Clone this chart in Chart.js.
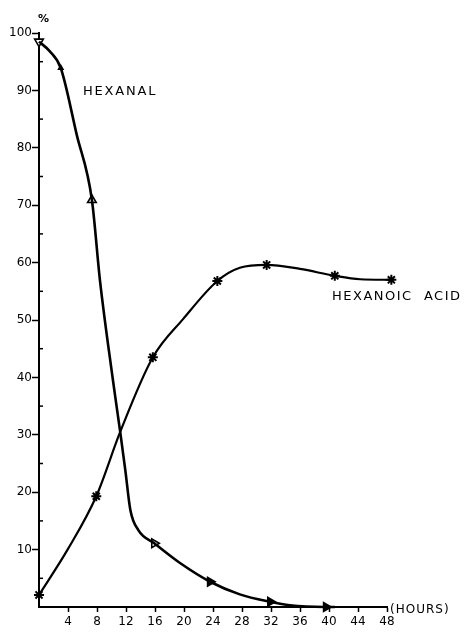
<!DOCTYPE html>
<html>
<head>
<meta charset="utf-8">
<script src="https://cdn.jsdelivr.net/npm/chart.js@4.4.1/dist/chart.umd.min.js"></script>
<style>
  html, body { margin: 0; padding: 0; background: #fff; }
  #wrap { width: 464px; height: 636px; }
</style>
</head>
<body>
<div id="wrap"><canvas id="grafico" width="464" height="636"></canvas></div>
<script>
// pontos medidos (marcadores)
const hexanalHoras = [0, 3, 7.3, 15.9, 23.6, 31.9, 39.6];
const hexanalPct = [98.5, 93.9, 70.9, 11.1, 4.4, 0.9, 0];
const acidoHoras = [0, 7.9, 15.7, 24.6, 31.4, 40.8, 48.6];
const acidoPct = [2.1, 19.3, 43.5, 56.8, 59.6, 57.7, 57.0];

// curvas desenhadas à mão
const hexanalCurvaHoras = [0, 1.5, 3, 5.2, 7.3, 8.4, 10.2, 11.2, 11.9, 12.6, 13.7, 15.9, 19.4, 23.6, 27.7, 31.9, 34.6, 39.4, 40.8];
const hexanalCurvaPct = [98.5, 96.8, 93.9, 82.3, 70.9, 57, 39.5, 30.5, 23.9, 16.9, 13.4, 11.1, 7.7, 4.4, 2.2, 0.9, 0.3, 0, 0];
const acidoCurvaHoras = [0, 3.9, 7.9, 11.2, 15.7, 19.9, 24.6, 27.7, 31.4, 36, 40.8, 44.3, 48.6];
const acidoCurvaPct = [2.1, 9.9, 19.3, 30.5, 43.5, 50.2, 56.8, 59.1, 59.6, 58.9, 57.7, 57.1, 57.0];

// eixos
const eixoX = { min: 0, max: 48, passo: 4 };
const eixoY = { min: 0, max: 100, passo: 5 };

const pares = (xs, ys) => xs.map((x, i) => ({ x: x, y: ys[i] }));
const fonte = "'DejaVu Sans', sans-serif";

// textos soltos e traços menores do eixo Y
const anotacoes = {
    id: "anotacoes",
    afterDraw(chart) {
        const ctx = chart.ctx;
        const y = chart.scales.y;
        ctx.save();
        ctx.strokeStyle = "#000";
        ctx.lineWidth = 1.5;
        for (let v = 5; v < 100; v += 10) {
            const py = y.getPixelForValue(v);
            ctx.beginPath();
            ctx.moveTo(y.right, py);
            ctx.lineTo(y.right + 4, py);
            ctx.stroke();
        }
        ctx.fillStyle = "#000";
        ctx.textBaseline = "middle";
        ctx.font = "bold 11px " + fonte;
        ctx.fillText("%", 38, 19);
        ctx.font = "13px " + fonte;
        ctx.letterSpacing = "1.8px";
        ctx.fillText("HEXANAL", 83, 92);
        ctx.letterSpacing = "1.5px";
        ctx.fillText("HEXANOIC  ACID", 332, 297);
        ctx.font = "12px " + fonte;
        ctx.letterSpacing = "1px";
        ctx.fillText("(HOURS)", 390, 610);
        ctx.restore();
    }
};

const ctx = document.getElementById("grafico").getContext("2d");
new Chart(ctx, {
    type: "line",
    data: {
        datasets: [
            {
                label: "Hexanal",
                data: pares(hexanalCurvaHoras, hexanalCurvaPct),
                borderColor: "#000",
                borderWidth: 2.6,
                cubicInterpolationMode: "monotone",
                pointRadius: 0,
                clip: false
            },
            {
                label: "Hexanoic acid",
                data: pares(acidoCurvaHoras, acidoCurvaPct),
                borderColor: "#000",
                borderWidth: 2.2,
                cubicInterpolationMode: "monotone",
                pointRadius: 0,
                clip: false
            },
            {
                label: "Hexanal (pontos)",
                data: pares(hexanalHoras, hexanalPct),
                showLine: false,
                pointStyle: "triangle",
                pointRotation: [180, 0, 0, 90, 90, 90, 90],
                pointRadius: [5, 2.5, 5, 5, 5, 5, 5],
                pointBackgroundColor: ["#fff", "#000", "#fff", "#fff", "#000", "#000", "#000"],
                pointBorderColor: "#000",
                pointBorderWidth: 1.6,
                clip: false
            },
            {
                label: "Hexanoic acid (pontos)",
                data: pares(acidoHoras, acidoPct),
                showLine: false,
                pointStyle: "star",
                pointRadius: 5,
                pointBorderColor: "#000",
                pointBorderWidth: 2,
                clip: false
            }
        ]
    },
    options: {
        responsive: false,
        animation: false,
        layout: { padding: { top: 33, right: 77, bottom: 0, left: 0 } },
        plugins: {
            legend: { display: false },
            tooltip: { enabled: false }
        },
        scales: {
            x: {
                type: "linear",
                min: eixoX.min,
                max: eixoX.max,
                afterFit: (s) => { s.height = 29; },
                border: { display: true, color: "#000", width: 2 },
                grid: {
                    drawOnChartArea: false,
                    tickLength: 5,
                    tickWidth: 1.5,
                    tickColor: (c) => (c.tick && c.tick.value === 0 ? "rgba(0,0,0,0)" : "#000")
                },
                ticks: {
                    stepSize: eixoX.passo,
                    padding: 3,
                    maxRotation: 0,
                    color: "#000",
                    font: { family: fonte, size: 12 },
                    callback: (v) => (v === 0 ? "" : v)
                }
            },
            y: {
                min: eixoY.min,
                max: eixoY.max,
                afterFit: (s) => { s.width = 39; },
                border: { display: true, color: "#000", width: 2 },
                grid: {
                    drawOnChartArea: false,
                    tickLength: 7,
                    tickWidth: 1.5,
                    tickColor: (c) => (c.tick && c.tick.value % 10 === 0 && c.tick.value > 0 ? "#000" : "rgba(0,0,0,0)")
                },
                ticks: {
                    stepSize: eixoY.passo,
                    autoSkip: false,
                    padding: 0,
                    color: "#000",
                    font: { family: fonte, size: 12 },
                    callback: (v) => (v % 10 === 0 && v > 0 ? v : "")
                }
            }
        }
    },
    plugins: [anotacoes]
});
</script>
</body>
</html>
